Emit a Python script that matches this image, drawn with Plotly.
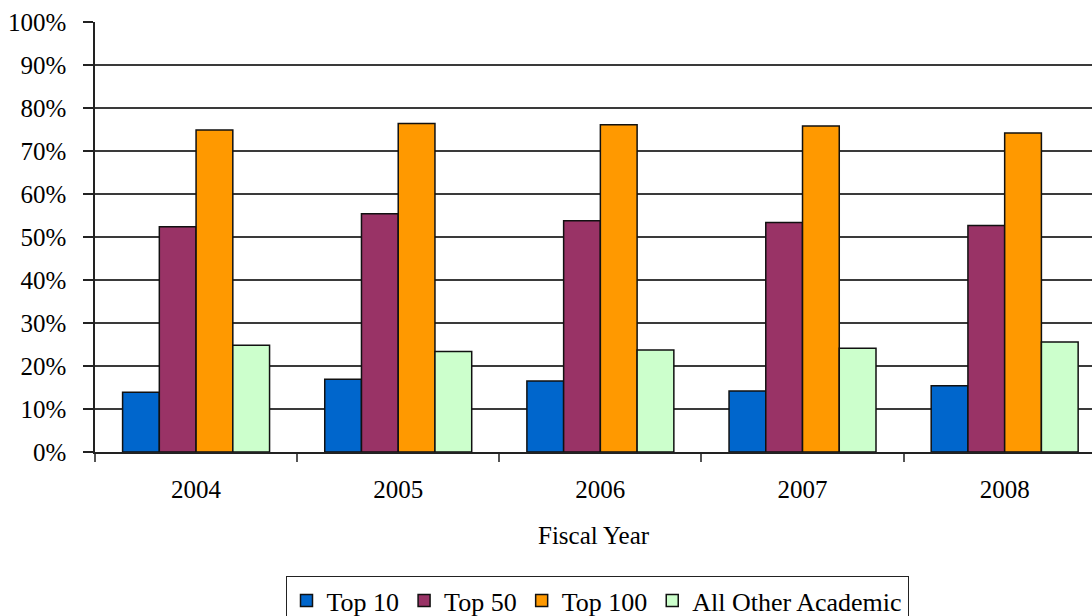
import plotly.graph_objects as go

# Share of academic funding by institution group, fiscal years 2004-2008
years = ["2004", "2005", "2006", "2007", "2008"]
top10 = [0.139, 0.169, 0.165, 0.142, 0.154]
top50 = [0.524, 0.554, 0.538, 0.534, 0.527]
top100 = [0.749, 0.764, 0.761, 0.758, 0.742]
all_other = [0.248, 0.234, 0.237, 0.241, 0.256]

series = [
    ("Top 10", top10, "#0066CC"),
    ("Top 50", top50, "#993366"),
    ("Top 100", top100, "#FF9900"),
    ("All Other Academic", all_other, "#CCFFCC"),
]

FONT = "Liberation Serif, Times New Roman, serif"

fig = go.Figure()
for name, vals, color in series:
    fig.add_trace(go.Bar(
        x=years, y=vals, name=name,
        marker=dict(color=color, line=dict(color="#111111", width=1.5)),
    ))

W, H = 1092, 616
left, right, top, bottom = 95, 0, 22, 164
plot_w = W - left - right
plot_h = H - top - bottom

fig.update_layout(
    width=W, height=H,
    margin=dict(l=left, r=right, t=top, b=bottom, autoexpand=False),
    paper_bgcolor="white", plot_bgcolor="white",
    font=dict(family=FONT, size=25, color="black"),
    barmode="group", bargap=0.273, bargroupgap=0,
    showlegend=True,
    legend=dict(
        orientation="h",
        x=(597 - left) / plot_w, xanchor="center",
        y=-(576 - (H - bottom)) / plot_h, yanchor="top",
        bordercolor="#222222", borderwidth=1,
        font=dict(family=FONT, size=26),
        bgcolor="white",
    ),
    xaxis=dict(
        type="category",
        range=[-0.5, 4.432],
        showline=True, linecolor="#222222", linewidth=1.5,
        ticks="outside", ticklen=8, tickcolor="#555555", tickwidth=1.5,
        tickson="boundaries",
        showgrid=False,
        tickfont=dict(family=FONT, size=25),
        ticklabelstandoff=14,
    ),
    yaxis=dict(
        range=[0, 1],
        tickvals=[i / 10 for i in range(11)],
        tickformat=".0%",
        showline=True, linecolor="#222222", linewidth=1.5,
        ticks="outside", ticklen=10, tickcolor="#222222", tickwidth=1.5,
        showgrid=True, gridcolor="#3a3a3a", gridwidth=1.5,
        zeroline=False,
        tickfont=dict(family=FONT, size=25),
        ticklabelstandoff=12,
    ),
    annotations=[dict(
        text="Fiscal Year", xref="paper", yref="paper",
        x=0.5, y=-(535 - (H - bottom)) / plot_h,
        xanchor="center", yanchor="middle", showarrow=False,
        font=dict(family=FONT, size=25),
    )],
)

fig.write_html("out.html")
